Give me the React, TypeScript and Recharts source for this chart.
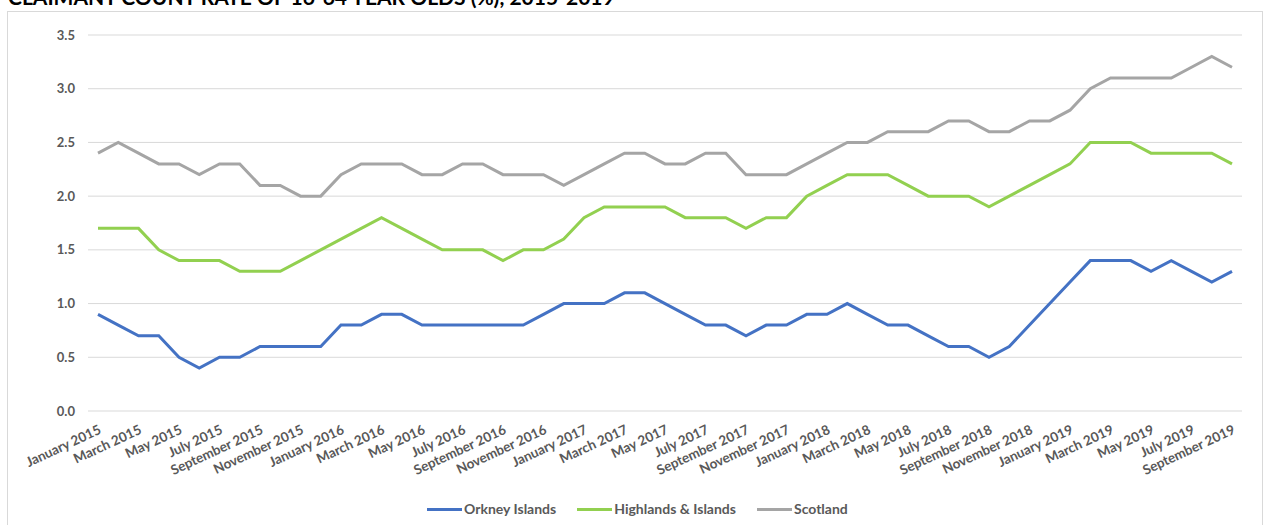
import { LineChart, Line, XAxis, YAxis, CartesianGrid } from "recharts";

const months = [
  "January", "February", "March", "April", "May", "June",
  "July", "August", "September", "October", "November", "December",
];
const years = [2015, 2016, 2017, 2018, 2019];

// Jan 2015 .. Sep 2019
const categories: string[] = years
  .flatMap((y) => months.map((m) => `${m} ${y}`))
  .slice(0, 57);

const orkney = [
  0.9, 0.8, 0.7, 0.7, 0.5, 0.4, 0.5, 0.5, 0.6, 0.6, 0.6, 0.6,
  0.8, 0.8, 0.9, 0.9, 0.8, 0.8, 0.8, 0.8, 0.8, 0.8, 0.9, 1.0,
  1.0, 1.0, 1.1, 1.1, 1.0, 0.9, 0.8, 0.8, 0.7, 0.8, 0.8, 0.9,
  0.9, 1.0, 0.9, 0.8, 0.8, 0.7, 0.6, 0.6, 0.5, 0.6, 0.8, 1.0,
  1.2, 1.4, 1.4, 1.4, 1.3, 1.4, 1.3, 1.2, 1.3,
];
const highlands = [
  1.7, 1.7, 1.7, 1.5, 1.4, 1.4, 1.4, 1.3, 1.3, 1.3, 1.4, 1.5,
  1.6, 1.7, 1.8, 1.7, 1.6, 1.5, 1.5, 1.5, 1.4, 1.5, 1.5, 1.6,
  1.8, 1.9, 1.9, 1.9, 1.9, 1.8, 1.8, 1.8, 1.7, 1.8, 1.8, 2.0,
  2.1, 2.2, 2.2, 2.2, 2.1, 2.0, 2.0, 2.0, 1.9, 2.0, 2.1, 2.2,
  2.3, 2.5, 2.5, 2.5, 2.4, 2.4, 2.4, 2.4, 2.3,
];
const scotland = [
  2.4, 2.5, 2.4, 2.3, 2.3, 2.2, 2.3, 2.3, 2.1, 2.1, 2.0, 2.0,
  2.2, 2.3, 2.3, 2.3, 2.2, 2.2, 2.3, 2.3, 2.2, 2.2, 2.2, 2.1,
  2.2, 2.3, 2.4, 2.4, 2.3, 2.3, 2.4, 2.4, 2.2, 2.2, 2.2, 2.3,
  2.4, 2.5, 2.5, 2.6, 2.6, 2.6, 2.7, 2.7, 2.6, 2.6, 2.7, 2.7,
  2.8, 3.0, 3.1, 3.1, 3.1, 3.1, 3.2, 3.3, 3.2,
];

const yTicks = [0, 0.5, 1.0, 1.5, 2.0, 2.5, 3.0, 3.5];

const series = [
  { key: "orkney", name: "Orkney Islands", color: "#4472C4" },
  { key: "highlands", name: "Highlands & Islands", color: "#92D050" },
  { key: "scotland", name: "Scotland", color: "#A5A5A5" },
];

const data = categories.map((month, i) => ({
  month,
  orkney: orkney[i],
  highlands: highlands[i],
  scotland: scotland[i],
}));

const font = "Lato, 'Open Sans', sans-serif";
const textGray = "#595959";

function MonthTick(props: any) {
  const { x, payload } = props;
  return (
    <g transform={`translate(${x + 4},433)`}>
      <text
        x={0}
        y={0}
        textAnchor="end"
        transform="rotate(-25)"
        fontFamily={font}
        fontWeight={700}
        fontSize={13.5}
        fill={textGray}
      >
        {payload.value}
      </text>
    </g>
  );
}

function ValueTick(props: any) {
  const { y, payload } = props;
  return (
    <text
      x={75}
      y={y}
      dy={4.5}
      textAnchor="end"
      fontFamily={font}
      fontWeight={700}
      fontSize={13}
      fill={textGray}
    >
      {Number(payload.value).toFixed(1)}
    </text>
  );
}

export default function App() {
  return (
    <div
      style={{
        position: "absolute",
        left: 0,
        top: 0,
        width: 1267,
        height: 525,
        overflow: "hidden",
        background: "#fff",
        fontFamily: font,
      }}
    >
      <div
        style={{
          position: "absolute",
          left: 7,
          top: 11,
          width: 1254,
          height: 540,
          border: "1px solid #D9D9D9",
        }}
      />
      <div
        style={{
          position: "absolute",
          left: 8,
          top: -15,
          fontSize: 21,
          fontWeight: 700,
          lineHeight: "24px",
          color: "#000",
          whiteSpace: "nowrap",
        }}
      >
        CLAIMANT COUNT RATE OF 16-64 YEAR OLDS (%), 2015-2019
      </div>
      <div style={{ position: "absolute", left: 0, top: 0 }}>
        <LineChart
          width={1267}
          height={525}
          data={data}
          margin={{ top: 35, right: 25, left: 0, bottom: 0 }}
        >
          <CartesianGrid vertical={false} stroke="#D9D9D9" />
          <XAxis
            dataKey="month"
            interval={1}
            height={114}
            axisLine={false}
            tickLine={false}
            padding={{ left: 10, right: 10 }}
            tick={<MonthTick />}
          />
          <YAxis
            domain={[0, 3.5]}
            ticks={yTicks}
            width={88}
            axisLine={false}
            tickLine={false}
            tick={<ValueTick />}
          />
          {series.map((s) => (
            <Line
              key={s.key}
              type="linear"
              dataKey={s.key}
              name={s.name}
              stroke={s.color}
              strokeWidth={3}
              dot={false}
              isAnimationActive={false}
            />
          ))}
        </LineChart>
      </div>
      <div
        style={{
          position: "absolute",
          top: 500,
          left: 427,
          display: "flex",
          alignItems: "center",
          fontSize: 14,
          fontWeight: 700,
          color: textGray,
          lineHeight: "18px",
        }}
      >
        {series.map((s) => (
          <div
            key={s.key}
            style={{ display: "flex", alignItems: "center", marginRight: 21 }}
          >
            <span
              style={{
                display: "inline-block",
                width: 35,
                height: 3,
                background: s.color,
                marginRight: 2,
              }}
            />
            <span>{s.name}</span>
          </div>
        ))}
      </div>
    </div>
  );
}
